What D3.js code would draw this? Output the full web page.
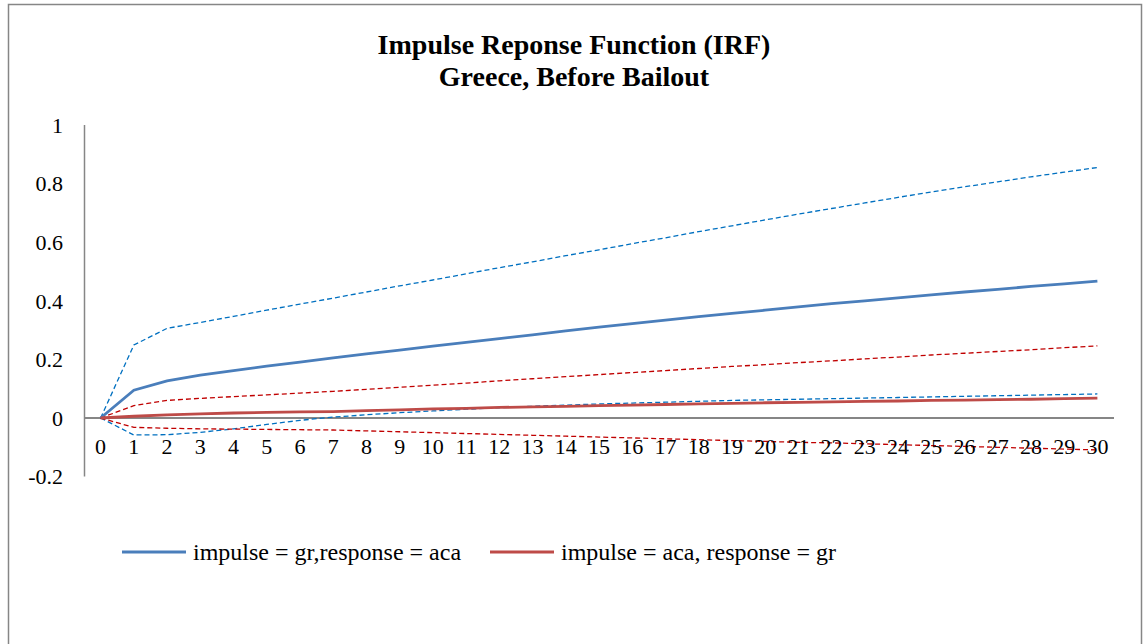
<!DOCTYPE html>
<html><head><meta charset="utf-8">
<script src="https://cdn.jsdelivr.net/npm/d3@7"></script>
<style>body{margin:0;background:#fff}svg{display:block}text{font-family:"Liberation Serif","Times New Roman",serif;fill:#000}</style>
</head><body><svg id="c" width="1144" height="644"></svg>
<script>
const steps = d3.range(0, 31);
const yTicks = [-0.2, 0, 0.2, 0.4, 0.6, 0.8, 1];
const grAcaIrf = [0,0.095,0.127,0.146,0.162,0.177,0.191,0.205,0.219,0.232,0.245,0.258,0.271,0.284,0.297,0.310,0.322,0.334,0.346,0.357,0.368,0.379,0.390,0.400,0.410,0.420,0.430,0.439,0.449,0.458,0.467];
const grAcaUpper = [0,0.249,0.306,0.326,0.347,0.368,0.389,0.409,0.430,0.451,0.471,0.492,0.513,0.533,0.554,0.574,0.595,0.615,0.636,0.656,0.676,0.696,0.715,0.734,0.753,0.771,0.789,0.806,0.823,0.839,0.855];
const grAcaLower = [0,-0.058,-0.057,-0.049,-0.037,-0.022,-0.008,0.003,0.011,0.018,0.024,0.030,0.035,0.040,0.044,0.048,0.051,0.054,0.057,0.060,0.062,0.064,0.066,0.068,0.070,0.072,0.074,0.076,0.078,0.080,0.082];
const acaGrIrf = [0,0.006,0.011,0.014,0.017,0.019,0.021,0.022,0.025,0.028,0.031,0.033,0.036,0.038,0.040,0.042,0.044,0.046,0.048,0.050,0.052,0.053,0.055,0.057,0.058,0.060,0.061,0.063,0.064,0.066,0.068];
const acaGrUpper = [0,0.042,0.060,0.067,0.073,0.079,0.085,0.091,0.098,0.105,0.112,0.119,0.127,0.134,0.141,0.148,0.155,0.162,0.169,0.176,0.182,0.189,0.195,0.202,0.208,0.215,0.221,0.227,0.233,0.240,0.246];
const acaGrLower = [0,-0.032,-0.035,-0.037,-0.038,-0.039,-0.040,-0.041,-0.044,-0.047,-0.050,-0.053,-0.056,-0.059,-0.062,-0.065,-0.068,-0.071,-0.074,-0.077,-0.080,-0.083,-0.085,-0.088,-0.091,-0.094,-0.097,-0.100,-0.103,-0.106,-0.109];
const legendLabels = ["impulse = gr,response = aca", "impulse = aca, response = gr"];
const titleLines = ["Impulse Reponse Function (IRF)", "Greece, Before Bailout"];

const svg = d3.select("#c");
// outer frame
svg.append("rect").attr("x",8.5).attr("y",4.5).attr("width",1133).attr("height",700)
  .attr("fill","none").attr("stroke","#868686").attr("stroke-width",1.5);

const x = d3.scalePoint().domain(steps).range([84,1114]).padding(0.5);
const y = d3.scaleLinear().domain([-0.2,1]).range([476.6,125]);

// title
const t = svg.append("text").attr("text-anchor","middle").attr("font-weight","bold").attr("font-size",28);
t.append("tspan").attr("x",574).attr("y",54).text(titleLines[0]);
t.append("tspan").attr("x",574).attr("y",86).text(titleLines[1]);

// y axis line
svg.append("line").attr("x1",84.5).attr("x2",84.5).attr("y1",y(1)).attr("y2",y(-0.2)).attr("stroke","#868686").attr("stroke-width",1.5);
// y tick labels
svg.selectAll(".yl").data(yTicks).enter().append("text")
  .attr("x",63).attr("y",d=>y(d)).attr("dy","0.35em").attr("text-anchor","end").attr("font-size",22)
  .text(d=>String(d));
// x axis line at zero
svg.append("line").attr("x1",84).attr("x2",1114).attr("y1",y(0)).attr("y2",y(0)).attr("stroke","#868686").attr("stroke-width",2);

const line = d3.line().x((d,i)=>x(steps[i])).y(d=>y(d));
const series = [
  {v:grAcaUpper, c:"#0070C0", w:1.3, dash:"5,3"},
  {v:grAcaLower, c:"#0070C0", w:1.3, dash:"5,3"},
  {v:acaGrUpper, c:"#C00000", w:1.3, dash:"5,3"},
  {v:acaGrLower, c:"#C00000", w:1.3, dash:"5,3"},
  {v:grAcaIrf, c:"#4A7EBB", w:2.8, dash:null},
  {v:acaGrIrf, c:"#BE4B48", w:2.8, dash:null}
];
series.forEach(s=>{
  svg.append("path").attr("d",line(s.v)).attr("fill","none").attr("stroke",s.c)
    .attr("stroke-width",s.w).attr("stroke-dasharray",s.dash);
});

// x tick labels
svg.selectAll(".xl").data(steps).enter().append("text")
  .attr("x",d=>x(d)).attr("y",454).attr("text-anchor","middle").attr("font-size",22).text(d=>d);

// legend
const leg = [{x:122,c:"#4A7EBB"},{x:490,c:"#BE4B48"}];
leg.forEach((l,i)=>{
  svg.append("line").attr("x1",l.x).attr("x2",l.x+64).attr("y1",552).attr("y2",552).attr("stroke",l.c).attr("stroke-width",2.8);
  svg.append("text").attr("x",l.x+71).attr("y",560).attr("font-size",24).text(legendLabels[i]);
});
</script></body></html>
